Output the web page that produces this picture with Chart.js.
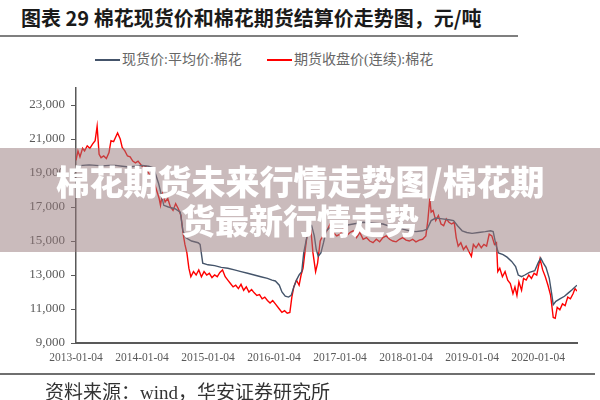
<!DOCTYPE html>
<html>
<head>
<meta charset="utf-8">
<script src="https://cdn.jsdelivr.net/npm/chart.js@4.4.1/dist/chart.umd.min.js"></script>
<style>
  body { margin: 0; width: 600px; height: 400px; position: relative; overflow: hidden; background: #fff; }
  #title { position: absolute; left: 21px; top: 5px; font: bold 20px 'Noto Sans CJK SC', sans-serif; line-height: 26px; color: #1a1a1a; white-space: nowrap; }
  #titleRule { position: absolute; left: 0; top: 35px; width: 518px; height: 2px; background: #7f7f7f; }
  #legend { position: absolute; left: 95px; top: 50px; font: 14px 'Liberation Serif', 'Noto Sans CJK SC', serif; line-height: 20px; color: #666; white-space: nowrap; }
  #legend span.item { display: inline-block; }
  #legend i { display: inline-block; width: 25px; height: 1.5px; vertical-align: middle; margin-right: 2px; position: relative; top: -1px; }
  #wrap { position: absolute; left: 0; top: 0; width: 600px; height: 400px; }
  #band { position: absolute; left: 0; top: 148px; width: 600px; height: 104px; background: rgba(150, 120, 122, 0.5);
          color: #fff; font: 900 34px 'Noto Sans CJK SC', sans-serif; line-height: 39px; text-align: center; padding-top: 13px; box-sizing: border-box; }
  #footRule { position: absolute; left: 0; top: 373px; width: 595px; height: 2px; background: #6f6f6f; }
  #foot { position: absolute; left: 45px; top: 381px; font: 19px 'Liberation Serif', 'Noto Sans CJK SC', serif; line-height: 24px; color: #333; white-space: nowrap; }
</style>
</head>
<body>
<div id="title">图表 29 棉花现货价和棉花期货结算价走势图，元/吨</div>
<div id="titleRule"></div>
<div id="legend">
  <span class="item" style="width:172px"><i style="background:#44546A"></i>现货价:平均价:棉花</span><span class="item"><i style="background:#FF0000"></i>期货收盘价(连续):棉花</span>
</div>
<div id="wrap"><canvas id="cottonChart" width="600" height="400"></canvas></div>
<div id="band">棉花期货未来行情走势图/棉花期<br>货最新行情走势</div>
<div id="footRule"></div>
<div id="foot">资料来源：wind，华安证券研究所</div>

<script>
// x values are years, 2013.0 = 2013-01-04
const xTickValues = [2013, 2014, 2015, 2016, 2017, 2018, 2019, 2020];
const xTickLabels = ['2013-01-04', '2014-01-04', '2015-01-04', '2016-01-04', '2017-01-04', '2018-01-04', '2019-01-04', '2020-01-04'];
const yTickValues = [9000, 11000, 13000, 15000, 17000, 19000, 21000, 23000];

const seriesNames = ['现货价:平均价:棉花', '期货收盘价(连续):棉花'];

const spotDates = [
  2013.00, 2013.10, 2013.20, 2013.30, 2013.40, 2013.50, 2013.60, 2013.70, 2013.80, 2013.90,
  2014.00, 2014.10, 2014.17, 2014.20, 2014.25, 2014.30, 2014.33, 2014.40, 2014.50, 2014.58,
  2014.62, 2014.66, 2014.75, 2014.85, 2014.88, 2014.92, 2015.00, 2015.10, 2015.20, 2015.30,
  2015.40, 2015.50, 2015.60, 2015.70, 2015.80, 2015.90, 2015.97, 2016.02, 2016.08, 2016.12,
  2016.17, 2016.22, 2016.26, 2016.30, 2016.34, 2016.38, 2016.42, 2016.45, 2016.49, 2016.53,
  2016.57, 2016.61, 2016.64, 2016.67, 2016.71, 2016.75, 2016.79, 2016.85, 2016.95, 2017.05,
  2017.20, 2017.35, 2017.50, 2017.65, 2017.80, 2017.95, 2018.05, 2018.15, 2018.25, 2018.32,
  2018.38, 2018.45, 2018.55, 2018.65, 2018.72, 2018.78, 2018.85, 2018.92, 2019.00, 2019.10,
  2019.20, 2019.28, 2019.32, 2019.36, 2019.40, 2019.47, 2019.53, 2019.60, 2019.66, 2019.70,
  2019.75, 2019.80, 2019.87, 2019.95, 2020.00, 2020.04, 2020.08, 2020.12, 2020.17, 2020.21,
  2020.23, 2020.27, 2020.33, 2020.40, 2020.46, 2020.52, 2020.56, 2020.59
];
const spotValues = [
  19400, 19450, 19480, 19450, 19420, 19450, 19450, 19400, 19350, 19400,
  19450, 19400, 19300, 19000, 18400, 17600, 17100, 17000, 16900, 16700,
  15600, 15200, 15000, 14900, 14800, 13700, 13600, 13550, 13450, 13400,
  13300, 13200, 13100, 13000, 12900, 12800, 12700, 12650, 12400, 12000,
  11750, 11700, 11800, 12300, 12700, 13000, 13200, 14300, 15100, 15700,
  15900, 15300, 14500, 14100, 14300, 14900, 15600, 15800, 15800, 15900,
  16000, 16100, 16050, 16000, 15800, 15700, 15600, 15550, 15600, 15700,
  16200, 16350, 16300, 16250, 16200, 15900, 15600, 15500, 15450, 15500,
  15550, 15600, 15550, 14800, 14300, 14200, 14050, 13800, 13500, 13000,
  12900, 13000, 13150, 13250, 13700, 14000, 13700, 13450, 12800, 11800,
  11250, 11450, 11600, 11750, 11950, 12150, 12300, 12400
];

const futDates = [
  2013.00, 2013.03, 2013.06, 2013.10, 2013.13, 2013.17, 2013.21, 2013.25, 2013.29, 2013.32,
  2013.35, 2013.38, 2013.42, 2013.46, 2013.50, 2013.53, 2013.57, 2013.60, 2013.63, 2013.67,
  2013.70, 2013.74, 2013.78, 2013.82, 2013.86, 2013.90, 2013.94, 2013.98, 2014.02, 2014.06,
  2014.10, 2014.14, 2014.18, 2014.22, 2014.26, 2014.28, 2014.31, 2014.35, 2014.39, 2014.43,
  2014.47, 2014.51, 2014.55, 2014.59, 2014.62, 2014.65, 2014.68, 2014.71, 2014.74, 2014.78,
  2014.82, 2014.86, 2014.90, 2014.94, 2014.98, 2015.02, 2015.06, 2015.10, 2015.14, 2015.18,
  2015.22, 2015.26, 2015.30, 2015.34, 2015.38, 2015.42, 2015.46, 2015.50, 2015.54, 2015.58,
  2015.62, 2015.66, 2015.70, 2015.74, 2015.78, 2015.82, 2015.86, 2015.90, 2015.94, 2015.98,
  2016.02, 2016.08, 2016.12, 2016.16, 2016.20, 2016.24, 2016.27, 2016.30, 2016.34, 2016.38,
  2016.41, 2016.44, 2016.47, 2016.50, 2016.53, 2016.56, 2016.59, 2016.63, 2016.66, 2016.70,
  2016.75, 2016.80, 2016.85, 2016.90, 2016.95, 2017.00, 2017.05, 2017.10, 2017.15, 2017.20,
  2017.25, 2017.30, 2017.35, 2017.40, 2017.45, 2017.50, 2017.55, 2017.60, 2017.65, 2017.70,
  2017.75, 2017.80, 2017.85, 2017.90, 2017.95, 2018.00, 2018.05, 2018.10, 2018.15, 2018.20,
  2018.25, 2018.30, 2018.33, 2018.36, 2018.38, 2018.41, 2018.45, 2018.49, 2018.53, 2018.57,
  2018.61, 2018.65, 2018.69, 2018.73, 2018.76, 2018.79, 2018.83, 2018.87, 2018.91, 2018.95,
  2018.99, 2019.02, 2019.06, 2019.10, 2019.14, 2019.18, 2019.22, 2019.26, 2019.30, 2019.34,
  2019.37, 2019.39, 2019.42, 2019.46, 2019.50, 2019.54, 2019.58, 2019.62, 2019.65, 2019.68,
  2019.71, 2019.75, 2019.78, 2019.82, 2019.86, 2019.90, 2019.94, 2019.98, 2020.03, 2020.07,
  2020.11, 2020.15, 2020.19, 2020.23, 2020.26, 2020.29, 2020.33, 2020.37, 2020.41, 2020.45,
  2020.49, 2020.53, 2020.56, 2020.59
];
const futValues = [
  19750, 20300, 19950, 20450, 20300, 20600, 20450, 20700, 20900, 21750,
  20100, 19900, 20000, 19850, 20200, 20900, 20850, 21100, 21350, 21000,
  20500, 20300, 20000, 19950, 19700, 19600, 19700, 19500, 19300, 19400,
  19000, 18700, 18500, 18000, 17500, 17100, 17800, 17300, 17500, 17000,
  16800, 17200, 16900, 16500, 15500, 14800, 14300, 13400, 12900, 13200,
  13000, 13300, 12900, 13200, 13000, 13100, 12850, 13000, 12900, 13150,
  13300, 12900, 12700, 12500, 12300, 12400, 12200, 12450, 12100, 12300,
  12000, 12150, 11950, 11800, 11850, 11600, 11700, 11500, 11350, 11500,
  11300, 11000, 10800, 10900, 10750, 10800, 11700, 12300, 12700, 12400,
  13000, 13400, 14400, 15300, 16000, 15600, 14300, 13200, 13700, 15000,
  15400, 15600, 16000, 15500, 15300, 15400, 15700, 15300, 15500, 15600,
  15200, 15500, 15100, 15200, 15000, 14900, 15100, 14950, 15200, 15300,
  15100, 15000, 14950, 15100, 15200, 15050, 15000, 15100, 14950, 15050,
  15100, 15300, 16200, 17500, 16700, 16800, 16200, 16500, 16000, 15900,
  16300, 16100, 16000, 16100, 15200, 14700, 14900, 14500, 14700, 14400,
  14100, 14800, 14600, 14850, 14600, 14800, 14700, 15400, 15300, 14800,
  14900, 13200, 13400, 12900, 13200, 12700, 12500, 11900, 12300, 11800,
  12600, 12100, 12800, 12700, 13000, 12800, 13100, 13000, 13950, 13300,
  12900, 12400, 11800, 10500, 10450, 11100, 10950, 11300, 11200, 11700,
  11600, 11900, 12200, 12050
];

const toPoints = (xs, ys) => xs.map((x, i) => ({ x, y: ys[i] }));

new Chart(document.getElementById('cottonChart'), {
  type: 'line',
  data: {
    datasets: [
      {
        label: seriesNames[0],
        data: toPoints(spotDates, spotValues),
        borderColor: '#44546A',
        borderWidth: 1.4,
        pointRadius: 0,
        tension: 0
      },
      {
        label: seriesNames[1],
        data: toPoints(futDates, futValues),
        borderColor: '#FF0000',
        borderWidth: 1.4,
        pointRadius: 0,
        tension: 0
      }
    ]
  },
  options: {
    responsive: false,
    animation: false,
    layout: { padding: { left: 0, top: 88, right: 23, bottom: 27 } },
    plugins: {
      legend: { display: false },
      tooltip: { enabled: false }
    },
    scales: {
      x: {
        type: 'linear',
        min: 2013,
        max: 2020.59,
        afterBuildTicks: scale => { scale.ticks = xTickValues.map(v => ({ value: v })); },
        afterFit: scale => { scale.height = 30; },
        grid: { display: true, drawOnChartArea: false, drawTicks: false },
        border: { display: true, color: '#595959', width: 2 },
        ticks: {
          padding: 8,
          maxRotation: 0,
          autoSkip: false,
          color: '#595959',
          font: { family: 'Liberation Serif', size: 11.5 },
          callback: (value) => xTickLabels[xTickValues.indexOf(value)]
        }
      },
      y: {
        min: 9000,
        max: 24000,
        afterBuildTicks: scale => { scale.ticks = yTickValues.map(v => ({ value: v })); },
        afterFit: scale => { scale.width = 76; },
        grid: { display: true, drawOnChartArea: false, drawTicks: true, tickLength: 5, color: '#595959' },
        border: { display: true, color: '#595959', width: 1.5 },
        ticks: {
          padding: 6,
          color: '#595959',
          font: { family: 'Liberation Serif', size: 13 },
          callback: (value) => value.toLocaleString('en-US')
        }
      }
    }
  }
});
</script>
</body>
</html>
